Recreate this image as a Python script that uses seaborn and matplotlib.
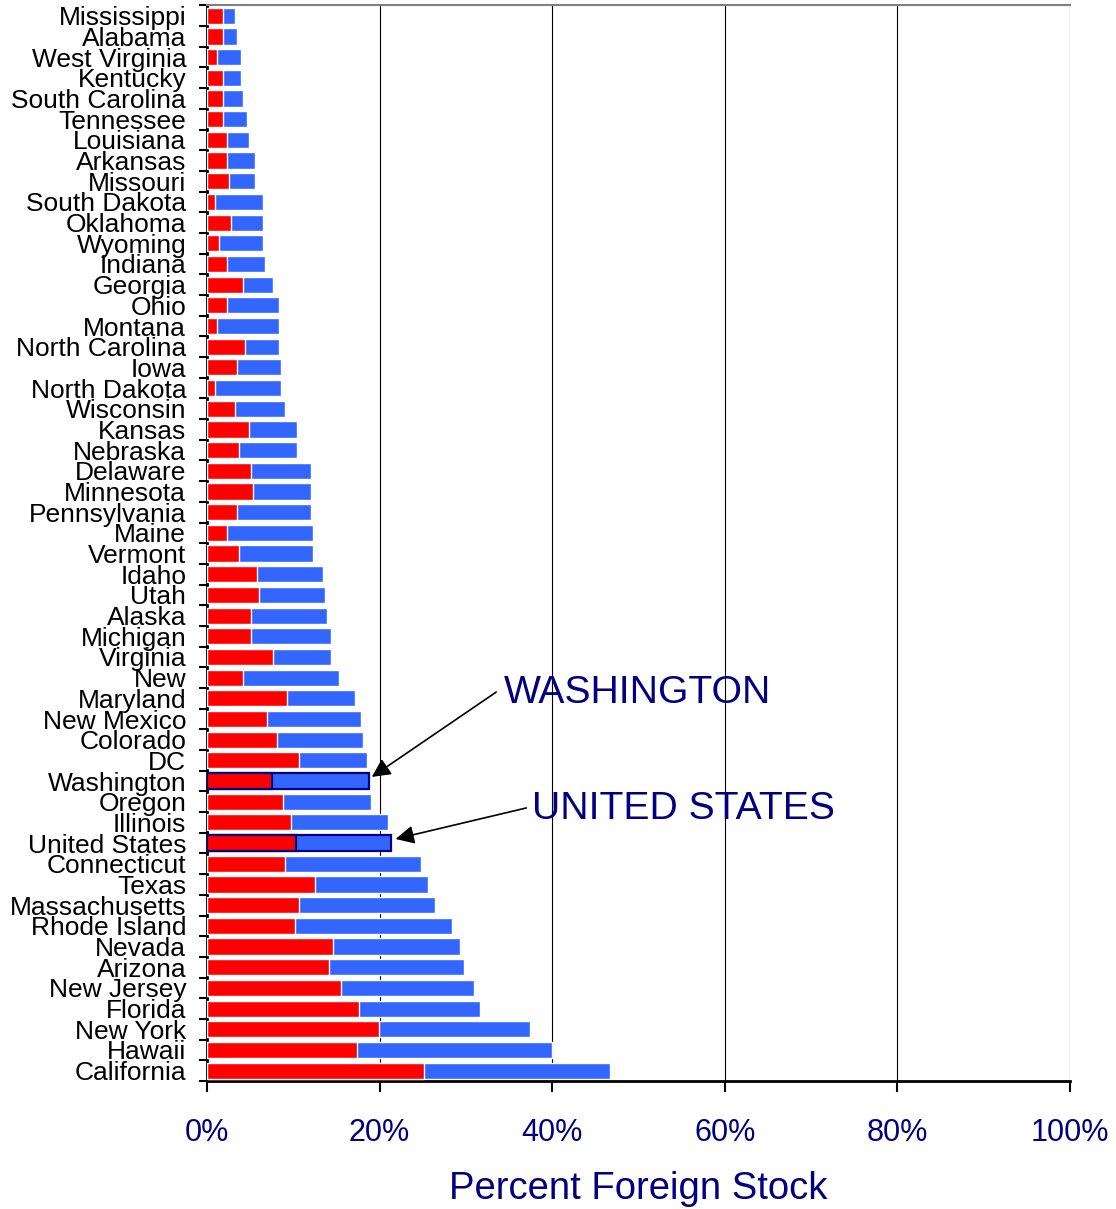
import matplotlib
matplotlib.use("Agg")
import matplotlib.pyplot as plt
import seaborn as sns

# rows top to bottom
states = ['Mississippi', 'Alabama', 'West Virginia', 'Kentucky', 'South Carolina', 'Tennessee',
          'Louisiana', 'Arkansas', 'Missouri', 'South Dakota', 'Oklahoma', 'Wyoming', 'Indiana',
          'Georgia', 'Ohio', 'Montana', 'North Carolina', 'Iowa', 'North Dakota', 'Wisconsin',
          'Kansas', 'Nebraska', 'Delaware', 'Minnesota', 'Pennsylvania', 'Maine', 'Vermont',
          'Idaho', 'Utah', 'Alaska', 'Michigan', 'Virginia', 'New', 'Maryland', 'New Mexico',
          'Colorado', 'DC', 'Washington', 'Oregon', 'Illinois', 'United States', 'Connecticut',
          'Texas', 'Massachusetts', 'Rhode Island', 'Nevada', 'Arizona', 'New Jersey', 'Florida',
          'New York', 'Hawaii', 'California']

# foreign born share (red part), percent
foreign_born = [1.85, 1.85, 1.16, 1.85, 1.85, 1.85, 2.31, 2.31, 2.54, 0.92, 2.77, 1.39, 2.31,
                4.16, 2.31, 1.16, 4.39, 3.47, 0.92, 3.24, 4.86, 3.70, 5.09, 5.32, 3.47, 2.31, 3.70,
                5.78, 6.01, 5.09, 5.09, 7.63, 4.16, 9.25, 6.94, 8.09, 10.64, 7.55, 8.79, 9.71,
                10.3, 9.02, 12.49, 10.64, 10.17, 14.57, 14.10, 15.49, 17.57, 19.88, 17.34, 25.2]

# total foreign stock (end of blue part), percent
foreign_stock = [3.24, 3.47, 3.93, 3.93, 4.16, 4.62, 4.86, 5.55, 5.55, 6.47, 6.47, 6.47, 6.71,
                 7.63, 8.32, 8.32, 8.32, 8.55, 8.55, 9.02, 10.4, 10.4, 12.0, 12.0, 12.0, 12.25, 12.25,
                 13.4, 13.64, 13.87, 14.34, 14.34, 15.26, 17.1, 17.8, 18.03, 18.5, 18.73, 18.96, 21.0,
                 21.27, 24.74, 25.66, 26.36, 28.44, 29.36, 29.83, 30.98, 31.68, 37.46, 40.0, 46.7]

highlight = ['Washington', 'United States']
x_ticks = [0, 20, 40, 60, 80, 100]

navy = '#000080'
red = '#FF0000'
blue = '#3366FF'

sns.set_style('white')
plt.rcParams['font.family'] = ['Liberation Sans', 'DejaVu Sans']

fig, ax = plt.subplots(figsize=(11.16, 12.09), dpi=100)
fig.subplots_adjust(left=0.1855, right=0.9588, top=0.9955, bottom=0.1059)

sns.barplot(x=foreign_stock, y=states, orient='h', color=blue, saturation=1,
            width=0.78, ax=ax, zorder=2)
sns.barplot(x=foreign_born, y=states, orient='h', color=red, saturation=1,
            width=0.78, ax=ax, zorder=3)

n = len(states)
for i, name in enumerate(states):
    if name in highlight:
        for p in (ax.patches[i], ax.patches[n + i]):
            p.set_edgecolor(navy)
            p.set_linewidth(1.6)

ax.set_xlim(0, 100)
ax.set_ylim(n - 0.5, -0.5)
ax.set_xticks(x_ticks)
ax.set_xticklabels([f'{t}%' for t in x_ticks], color=navy, fontsize=22)
ax.tick_params(axis='x', length=8, width=1.5, color='black', pad=19, bottom=True)

ax.set_yticks(range(n))
ax.set_yticklabels(states, fontsize=19, color='black')
ax.tick_params(axis='y', which='major', length=0, pad=15)
ax.set_yticks([i - 0.5 for i in range(n + 1)], minor=True)
ax.tick_params(axis='y', which='minor', length=6, width=1.5, color='black', left=True)

ax.grid(axis='x', color='black', linewidth=0.8, zorder=0)
ax.set_axisbelow(True)
ax.set_ylabel('')
ax.set_xlabel('Percent Foreign Stock', color=navy, fontsize=27.5, labelpad=16)

for side in ['left', 'bottom']:
    ax.spines[side].set_color('black')
    ax.spines[side].set_linewidth(2)
ax.spines['top'].set_color('#808080')
ax.spines['top'].set_linewidth(1.5)
ax.spines['right'].set_visible(False)

arrow = dict(arrowstyle='-|>', color='black', lw=1.2, mutation_scale=28,
             shrinkA=0, shrinkB=0)
ax.annotate('', xy=(19.1, 36.8), xytext=(33.5, 32.7), arrowprops=arrow)
ax.text(34.4, 32.75, 'WASHINGTON', color=navy, fontsize=28.2, va='center', ha='left')
ax.annotate('', xy=(21.85, 39.8), xytext=(37.0, 38.3), arrowprops=arrow)
ax.text(37.7, 38.35, 'UNITED STATES', color=navy, fontsize=28.2, va='center', ha='left')

fig.savefig('out.png', dpi=100)
